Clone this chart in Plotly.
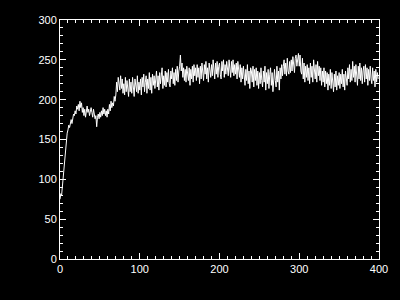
import plotly.graph_objects as go

y_values = [
    75, 82, 80, 92, 100, 118, 130, 140, 152, 158,
    162, 168, 165, 172, 175, 170, 178, 182, 180, 186,
    182, 192, 188, 194, 186, 198, 190, 196, 184, 190,
    180, 188, 178, 186, 192, 184, 188, 180, 186, 190,
    184, 178, 188, 182, 176, 180, 166, 178, 182, 176,
    184, 178, 186, 180, 190, 182, 188, 180, 186, 178,
    188, 182, 194, 186, 198, 190, 196, 192, 204, 198,
    206, 222, 210, 228, 218, 212, 230, 214, 226, 208,
    220, 206, 228, 210, 224, 212, 204, 226, 210, 222,
    208, 228, 214, 204, 226, 216, 210, 230, 208, 222,
    212, 226, 206, 228, 216, 232, 210, 222, 230, 208,
    226, 214, 234, 212, 228, 208, 232, 218, 230, 214,
    226, 236, 216, 230, 212, 234, 220, 232, 240, 214,
    230, 218, 236, 216, 234, 222, 238, 220, 216, 236,
    226, 240, 220, 234, 218, 238, 224, 242, 222, 236,
    242, 256, 236, 246, 228, 240, 224, 238, 222, 242,
    230, 224, 240, 218, 238, 226, 242, 222, 244, 230,
    240, 224, 244, 228, 240, 220, 242, 226, 246, 232,
    224, 244, 232, 248, 226, 240, 222, 246, 236, 228,
    244, 230, 250, 234, 226, 246, 232, 248, 228, 242,
    246, 232, 226, 248, 236, 250, 228, 244, 232, 248,
    236, 230, 250, 238, 228, 248, 234, 250, 230, 244,
    232, 246, 226, 248, 236, 228, 244, 222, 240, 226,
    242, 224, 218, 238, 224, 244, 220, 236, 214, 240,
    236, 222, 242, 216, 238, 224, 240, 218, 236, 214,
    234, 220, 240, 224, 216, 236, 222, 242, 212, 234,
    220, 238, 214, 232, 240, 218, 234, 210, 230, 238,
    224, 216, 242, 222, 236, 212, 240, 226, 244, 230,
    242, 250, 232, 246, 230, 252, 236, 232, 248, 234,
    250, 236, 254, 240, 234, 252, 256, 242, 254, 258,
    242, 256, 236, 232, 252, 226, 246, 222, 242, 228,
    244, 224, 240, 220, 246, 228, 242, 222, 250, 230,
    226, 244, 222, 248, 230, 242, 224, 240, 218, 236,
    222, 240, 216, 236, 220, 234, 212, 232, 218, 238,
    214, 234, 220, 210, 232, 216, 236, 212, 230, 218,
    234, 214, 232, 220, 238, 216, 232, 212, 236, 222,
    218, 240, 226, 244, 222, 238, 224, 248, 228, 242,
    222, 244, 230, 218, 242, 226, 246, 224, 240, 220,
    236, 242, 222, 244, 226, 240, 218, 238, 224, 242,
    226, 220, 240, 224, 236, 216, 238, 222, 234, 226,
]
x_values = list(range(len(y_values)))

x_ticks = [0, 100, 200, 300, 400]
y_ticks = [0, 50, 100, 150, 200, 250, 300]

fig = go.Figure(go.Scatter(x=x_values, y=y_values, mode="lines",
                           line=dict(color="white", width=1)))

axis_common = dict(
    showgrid=False, zeroline=False, showline=True, linecolor="white",
    linewidth=1, mirror="ticks", ticks="inside", ticklen=6, tickwidth=1,
    tickcolor="white", tickfont=dict(family="Liberation Sans, Arial", size=11, color="white"),
)
fig.update_xaxes(range=[0, 400], tickvals=x_ticks, ticktext=[str(v) for v in x_ticks],
                 minor=dict(ticks="inside", ticklen=3, dtick=10, tickcolor="white", tickwidth=1),
                 **axis_common)
fig.update_yaxes(range=[0, 300], tickvals=y_ticks, ticktext=[str(v) for v in y_ticks],
                 minor=dict(ticks="inside", ticklen=3, dtick=10, tickcolor="white", tickwidth=1),
                 **axis_common)
fig.update_layout(
    width=400, height=300, paper_bgcolor="black", plot_bgcolor="black",
    margin=dict(l=60, r=17, t=20, b=41), showlegend=False,
)
fig.write_html("out.html")
